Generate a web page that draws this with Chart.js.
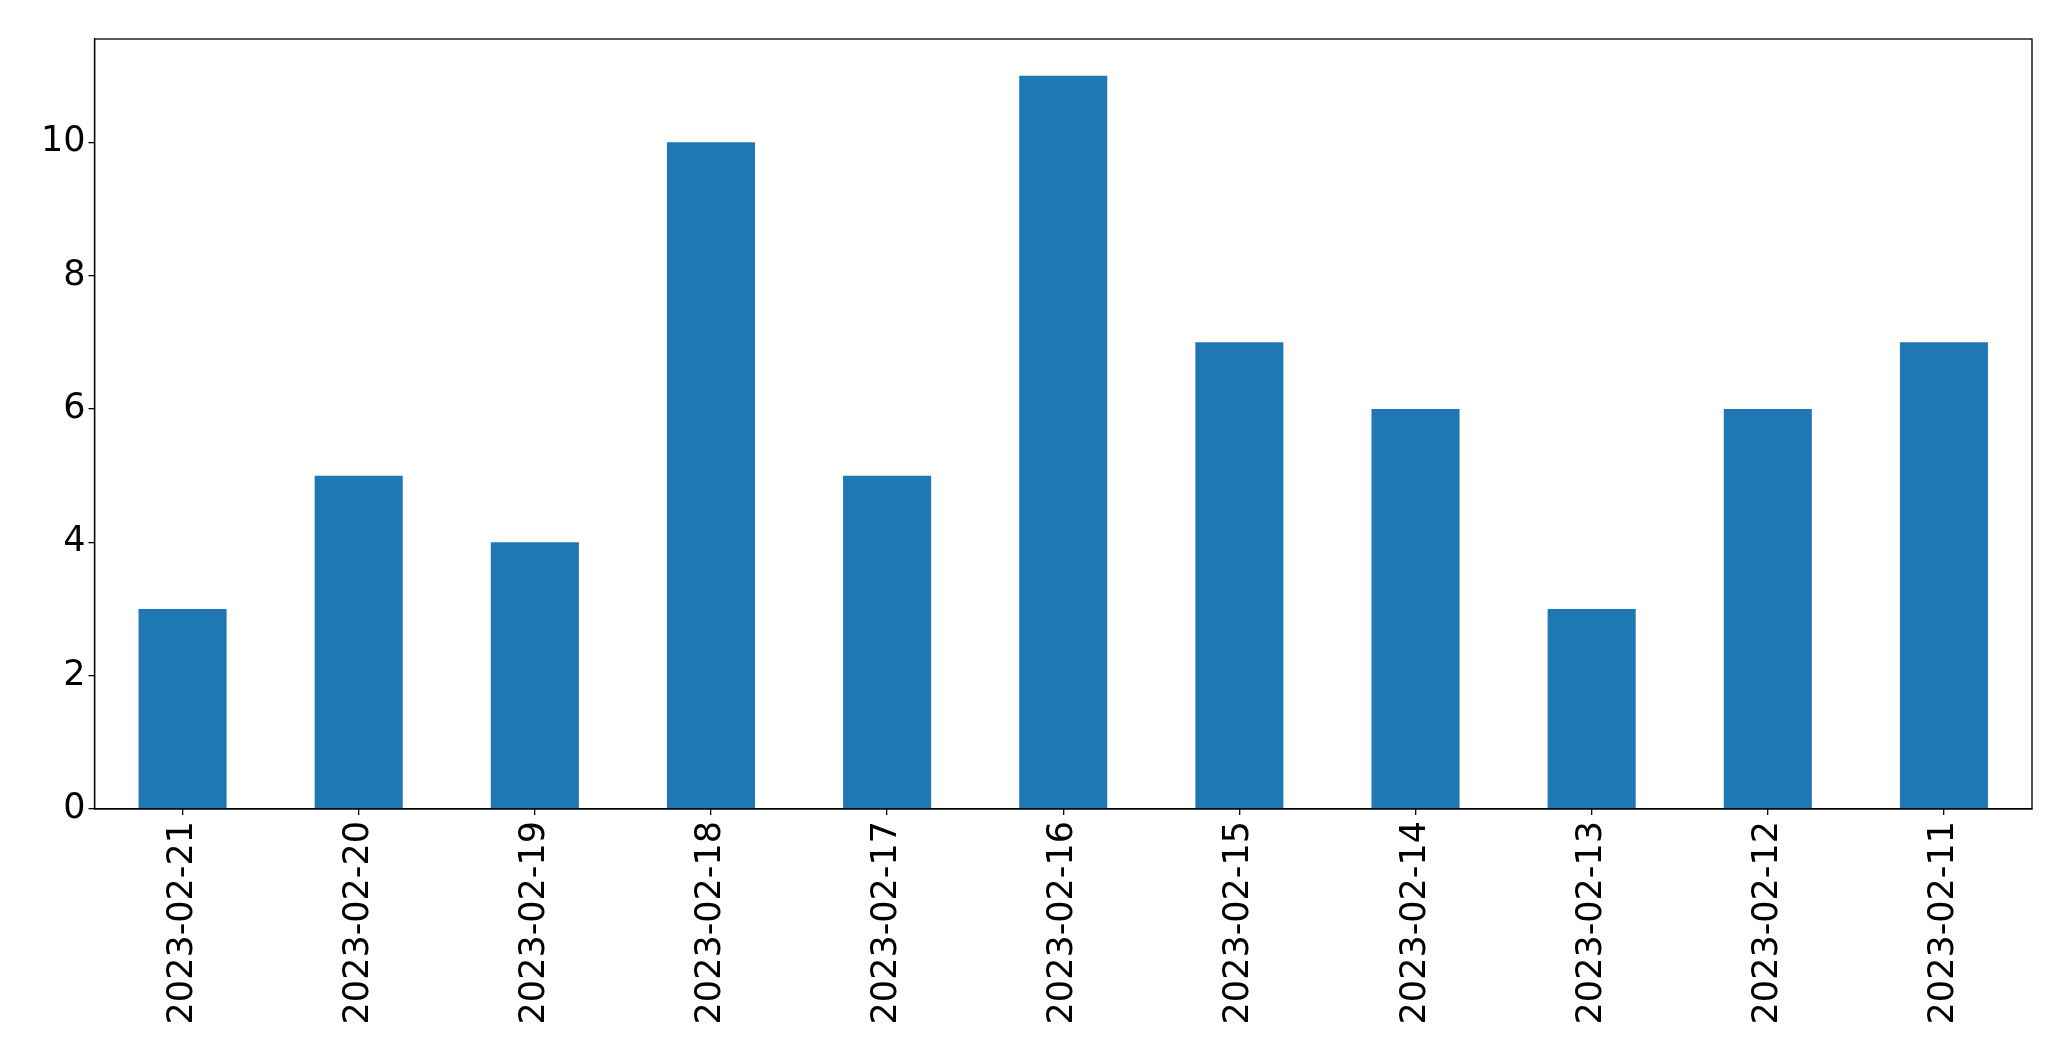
<!DOCTYPE html>
<html>
<head>
<meta charset="utf-8">
<script src="https://cdn.jsdelivr.net/npm/chart.js@4/dist/chart.umd.min.js"></script>
<style>
  html, body { margin: 0; padding: 0; background: #fff; }
</style>
</head>
<body>
<canvas id="barChart" width="2071" height="1061"></canvas>
<script>
// Dates as labeled on the x axis, newest first
const DATES = ['2023-02-21', '2023-02-20', '2023-02-19', '2023-02-18', '2023-02-17', '2023-02-16',
               '2023-02-15', '2023-02-14', '2023-02-13', '2023-02-12', '2023-02-11'];
const COUNTS = [3, 5, 4, 10, 5, 11, 7, 6, 3, 6, 7];
const Y_TICKS = [0, 2, 4, 6, 8, 10];

const FONT = { family: 'DejaVu Sans', size: 35 };

// Box around the plot area, like a matplotlib frame
const frame = {
    id: 'frame',
    afterDraw(chart) {
        const { ctx, chartArea: a } = chart;
        ctx.save();
        ctx.strokeStyle = '#000';
        ctx.lineWidth = 1.3;
        ctx.strokeRect(a.left, a.top, a.right - a.left, a.bottom - a.top);
        ctx.restore();
    }
};

const ctx = document.getElementById('barChart').getContext('2d');
new Chart(ctx, {
    type: 'bar',
    data: {
        labels: DATES,
        datasets: [{
            data: COUNTS,
            backgroundColor: '#1f77b4',
            borderWidth: 0,
            categoryPercentage: 1.0,
            barPercentage: 0.5
        }]
    },
    options: {
        responsive: false,
        devicePixelRatio: 1,
        animation: false,
        layout: {
            padding: { top: 39, right: 39, left: 0, bottom: 0 }
        },
        scales: {
            x: {
                grid: { offset: false, drawOnChartArea: false, drawTicks: true, tickLength: 6, color: '#000', lineWidth: 1.3 },
                border: { display: true, color: '#000', width: 1.3 },
                ticks: {
                    color: '#000',
                    font: FONT,
                    minRotation: 90,
                    maxRotation: 90,
                    padding: 6,
                    autoSkip: false
                },
                afterFit: (scale) => { scale.height = 252; }
            },
            y: {
                min: 0,
                max: 11.55,
                afterBuildTicks: (scale) => {
                    scale.ticks = Y_TICKS.map(v => ({ value: v }));
                },
                grid: { drawOnChartArea: false, drawTicks: true, tickLength: 6, color: '#000', lineWidth: 1.3 },
                border: { display: true, color: '#000', width: 1.3 },
                ticks: {
                    color: '#000',
                    font: FONT,
                    padding: 3
                },
                afterFit: (scale) => { scale.width = 94.5; }
            }
        },
        plugins: {
            legend: { display: false },
            tooltip: { enabled: false }
        }
    },
    plugins: [frame]
});
</script>
</body>
</html>
